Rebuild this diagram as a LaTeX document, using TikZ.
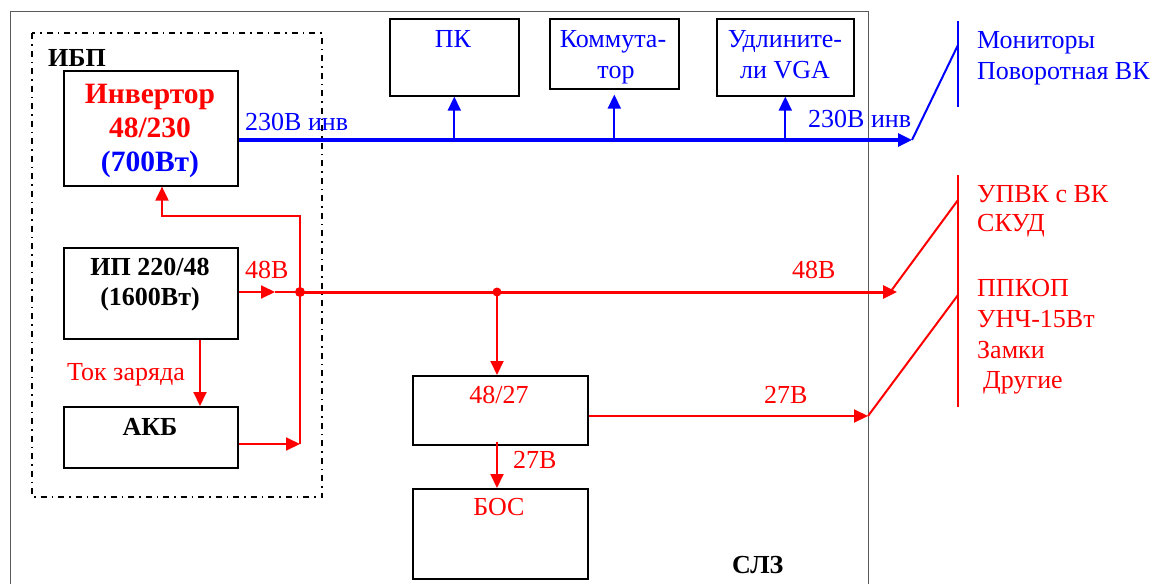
\documentclass[tikz,border=0pt]{standalone}
\usepackage{fontspec}
\setmainfont{Liberation Serif}
\usetikzlibrary{arrows.meta}
\definecolor{myred}{RGB}{255,0,0}
\definecolor{myblue}{RGB}{0,0,255}
\definecolor{framegray}{RGB}{90,90,90}
\begin{document}
\begin{tikzpicture}[x=1pt,y=-1pt,
 box/.style={draw=black, line width=1.6pt, inner sep=0pt, anchor=north west},
 txt/.style={inner sep=0pt, anchor=base, font=\fontsize{26}{31}\selectfont},
 btxt/.style={inner sep=0pt, anchor=base, font=\fontsize{26}{31}\selectfont\bfseries},
 bigtxt/.style={inner sep=0pt, anchor=base, font=\fontsize{29.5}{34}\selectfont\bfseries},
 tip/.style={-{Triangle[length=14pt,width=13pt]}},
 rl/.style={draw=myred, line width=2pt},
 rthick/.style={draw=myred, line width=3pt},
 bl/.style={draw=myblue, line width=2pt},
 bthick/.style={draw=myblue, line width=3.2pt},
]
\useasboundingbox (0,0) rectangle (1160,584);
% outer frame (СЛЗ)
\draw[framegray, line width=1pt] (10,590) -- (10,11) -- (868,11) -- (868,590);
% UPS dash-dot frame
\draw[line width=1.5pt, dash pattern=on 6pt off 5pt on 1.5pt off 5pt] (32,33) rectangle (322,497);

% boxes
\node[box, minimum width=174pt, minimum height=115pt] (inv) at (63,70) {};
\node[box, minimum width=174pt, minimum height=91pt] (ip) at (63,247) {};
\node[box, minimum width=174pt, minimum height=61pt] (akb) at (63,406) {};
\node[box, minimum width=129pt, minimum height=77pt] (pk) at (389,18) {};
\node[box, minimum width=129pt, minimum height=70pt] (kom) at (549,18) {};
\node[box, minimum width=137pt, minimum height=77pt] (udl) at (716,18) {};
\node[box, minimum width=175pt, minimum height=69pt] (conv) at (412,375) {};
\node[box, minimum width=175pt, minimum height=90pt] (bos) at (412,488) {};

% texts
\node[btxt, anchor=base west] (tibp) at (48,66) {ИБП};
\node[bigtxt, myred] (tinv1) at (150,103) {Инвертор};
\node[bigtxt, myred] (tinv2) at (150,137) {48/230};
\node[bigtxt, myblue] (tinv3) at (150,171) {(700Вт)};
\node[btxt] (tip1) at (150,275) {ИП 220/48};
\node[btxt] (tip2) at (150,305) {(1600Вт)};
\node[btxt] (takb) at (150,435) {АКБ};
\node[txt, myred, anchor=base west] (ttok) at (67,380) {Ток заряда};
\node[txt, myblue, anchor=base west] (t230a) at (245,130) {230В инв};
\node[txt, myred, anchor=base west] (t48a) at (245,278) {48В};
\node[txt, myblue] (tpk) at (453,47) {ПК};
\node[txt, myblue] (tkom1) at (613,47) {Коммута-};
\node[txt, myblue] (tkom2) at (616,78) {тор};
\node[txt, myblue] (tudl1) at (785,47) {Удлините-};
\node[txt, myblue] (tudl2) at (785,78) {ли VGA};
\node[txt, myblue, anchor=base west] (t230b) at (808,127) {230В инв};
\node[txt, myred, anchor=base west] (t48b) at (792,278) {48В};
\node[txt, myred] (tconv) at (499,403) {48/27};
\node[txt, myred, anchor=base west] (t27a) at (764,403) {27В};
\node[txt, myred, anchor=base west] (t27b) at (513,468) {27В};
\node[txt, myred] (tbos) at (499,515) {БОС};
\node[btxt, anchor=base west] (tslz) at (732,573) {СЛЗ};
\node[txt, myblue, anchor=base west] (tmon1) at (977,48) {Мониторы};
\node[txt, myblue, anchor=base west] (tmon2) at (977,79) {Поворотная ВК};
\node[txt, myred, anchor=base west] (tr1) at (977,202) {УПВК с ВК};
\node[txt, myred, anchor=base west] (tr2) at (977,231) {СКУД};
\node[txt, myred, anchor=base west] (tr3) at (977,296) {ППКОП};
\node[txt, myred, anchor=base west] (tr4) at (977,327) {УНЧ-15Вт};
\node[txt, myred, anchor=base west] (tr5) at (977,358) {Замки};
\node[txt, myred, anchor=base west] (tr6) at (983,388) {Другие};

% coordinates
\coordinate (busend) at (912,140);
\coordinate (monA) at (958,45);
\coordinate (monTop) at (958,21);
\coordinate (monBot) at (958,107);
\coordinate (a48) at (275,292);
\coordinate (j1) at (300,292);
\coordinate (j2) at (497,292);
\coordinate (end48) at (897,292);
\coordinate (akbR) at (300,444);
\coordinate (turn) at (300,216);
\coordinate (invIn) at (162,216);
\coordinate (chg) at (200,372);
\coordinate (out27) at (868,416);
\coordinate (rTop) at (958,175);
\coordinate (rBot) at (958,407);
\coordinate (rA) at (958,200);
\coordinate (rB) at (958,295);
\coordinate (s48) at (891,291);

% blue 230V bus
\draw[bthick, tip] (inv.east |- busend) -- (busend);
\draw[bl, tip] (pk.south |- busend) -- (pk.south);
\draw[bl, tip] (kom.south |- busend) -- ([yshift=-5pt]kom.south);
\draw[bl, tip] (udl.south |- busend) -- (udl.south);
\draw[bl] (busend) -- (monA);
\draw[bl] (monTop) -- (monBot);

% red 48V
\draw[rl, tip] (ip.east |- j1) -- (a48);
\draw[rl] (a48) -- (j1);
\draw[rthick, tip] (j1) -- (end48);
\fill[myred] (j1) circle (5pt);
\fill[myred] (j2) circle (4.5pt);
\draw[rl, tip] (akb.east |- akbR) -- (akbR);
\draw[rl, tip] (akbR) -- (turn) -- (invIn) -- (invIn |- inv.south);
\draw[rl, tip] (chg |- ip.south) -- (chg |- akb.north);
\draw[rl, tip] (j2) -- (j2 |- conv.north);
\draw[rl, tip] (conv.east |- out27) -- (out27);
\draw[rl, tip] ([yshift=4pt]j2 |- conv.south) -- (j2 |- bos.north);
\draw[rl] (rTop) -- (rBot);
\draw[rl] (rA) -- (s48);
\draw[rl] (rB) -- (out27);
\end{tikzpicture}
\end{document}
